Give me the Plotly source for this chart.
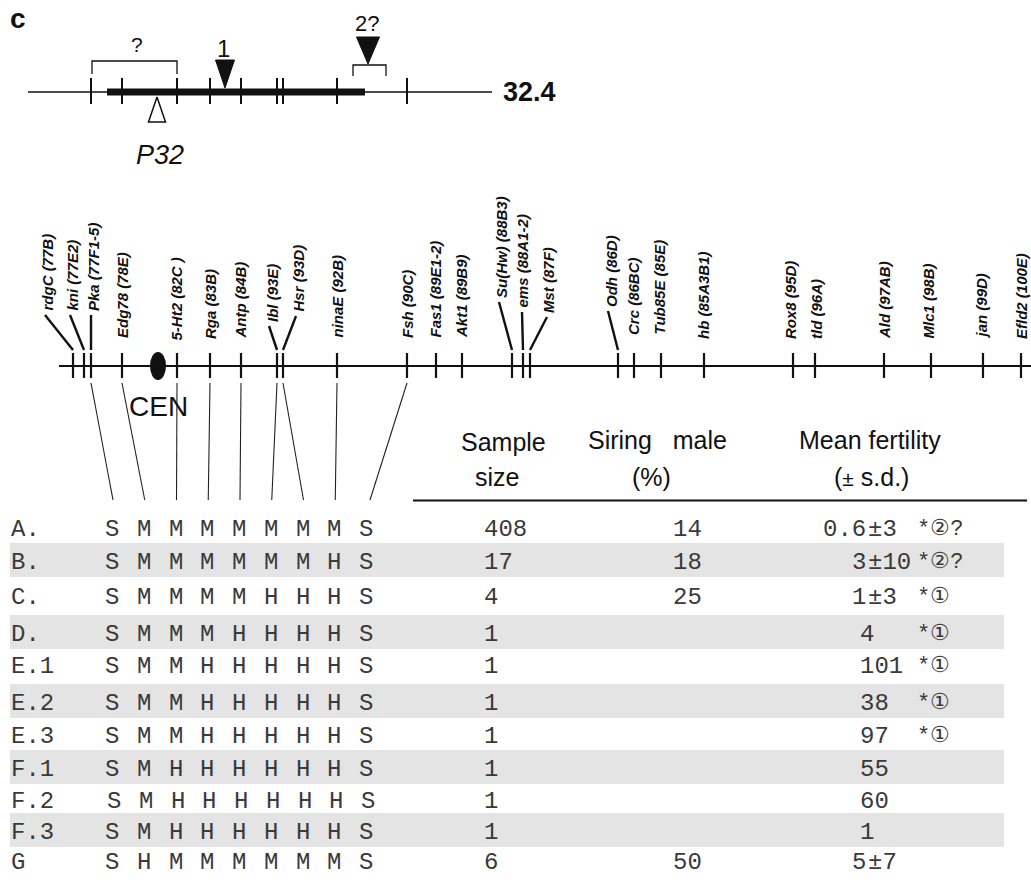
import plotly.graph_objects as go

# ---------------- data ----------------
# chromosome 3 markers (name, cytological band, map position along the drawn chromosome)
gene_names = ["rdgC", "kni", "Pka", "Edg78", "5-Ht2", "Rga", "Antp", "Ibl", "Hsr", "ninaE",
              "Fsh", "Fas1", "Akt1", "Su(Hw)", "ems", "Mst", "Odh", "Crc", "Tub85E", "hb",
              "Rox8", "tld", "Ald", "Mlc1", "jan", "Efld2"]
gene_bands = ["77B", "77E2", "77F1-5", "78E", "82C ", "83B", "84B", "93E", "93D", "92B",
              "90C", "89E1-2", "89B9", "88B3", "88A1-2", "87F", "86D", "86BC", "85E", "85A3B1",
              "95D", "96A", "97AB", "98B", "99D", "100E"]
gene_pos = [73, 84, 91, 122, 177, 210, 241, 277, 283, 337,
            407, 436, 462, 512, 523, 530, 618, 634, 661, 704,
            793, 815, 884, 931, 983, 1021]
centromere_pos = 158

# markers genotyped in the table (in column order)
typed_markers = ["Pka", "Edg78", "5-Ht2", "Rga", "Antp", "Ibl", "Hsr", "ninaE", "Fsh"]

# interval map (32.4)
interval_label = "32.4"
interval_span = [28, 492]
insert_span = [107, 365]
p32_pos = 157
site1_pos = 225
site2_pos = 368
q_bracket = [92, 177]
site2_bracket = [353, 386]

# table
row_labels = ["A.", "B.", "C.", "D.", "E.1", "E.2", "E.3", "F.1", "F.2", "F.3", "G"]
genotypes = ["SMMMMMMMS", "SMMMMMMHS", "SMMMMHHHS", "SMMMHHHHS", "SMMHHHHHS", "SMMHHHHHS",
             "SMMHHHHHS", "SMHHHHHHS", "SMHHHHHHS", "SMHHHHHHS", "SHMMMMMMS"]
sample_size = [408, 17, 4, 1, 1, 1, 1, 1, 1, 1, 6]
siring_pct = [14, 18, 25, None, None, None, None, None, None, None, 50]
fert_mean = ["0.6", "3", "1", "4", "101", "38", "97", "55", "60", "1", "5"]
fert_sd = ["3", "10", "3", None, None, None, None, None, None, None, "7"]
fert_note = ["*②?", "*②?", "*①", "*①", "*①", "*①", "*①", "", "", "", ""]
shaded_rows = ["B.", "D.", "E.2", "F.1", "F.3"]

# ---------------- layout constants ----------------
W, H = 1031, 889
INK = "#111111"
GREY_TXT = "#3a3a3a"
SANS = "Liberation Sans, Arial, sans-serif"
MONO = "Liberation Mono, Courier New, monospace"
TOP_Y = 92
MAP_Y = 366
# label layout: (label centre x, label bottom y, leader top x or None)
label_layout = {
    "rdgC": (47, 312, 45), "kni": (72, 312, 70), "Pka": (93, 312, 91),
    "Edg78": (122, 339, None), "5-Ht2": (176, 342, None), "Rga": (210, 340, None),
    "Antp": (240, 340, None), "Ibl": (272, 323, 269), "Hsr": (298, 313, 296),
    "ninaE": (337, 339, None), "Fsh": (407, 339, None), "Fas1": (435, 339, None),
    "Akt1": (461, 339, None), "Su(Hw)": (501, 299, 499), "ems": (522, 309, 522),
    "Mst": (548, 314, 547), "Odh": (611, 308, 608), "Crc": (633, 336, None),
    "Tub85E": (659, 336, None), "hb": (703, 340, None), "Rox8": (790, 340, None),
    "tld": (816, 340, None), "Ald": (884, 340, None), "Mlc1": (928, 340, None),
    "jan": (981, 340, None), "Efld2": (1021, 340, None),
}
row_y = [529, 562, 597, 634, 666, 703, 736, 769, 801, 832, 862]
col_x0, col_dx = 112, 31.75
pos_of = dict(zip(gene_names, gene_pos))

fig = go.Figure()


def add_lines(xs, ys, width, color=INK):
    fig.add_trace(go.Scatter(x=xs, y=ys, mode="lines", line=dict(color=color, width=width),
                             hoverinfo="skip", showlegend=False))


# ---------- top interval map ----------
add_lines(interval_span, [TOP_Y, TOP_Y], 1.4)
add_lines(insert_span, [TOP_Y, TOP_Y], 7)
tx, ty = [], []
for m in typed_markers:
    tx += [pos_of[m], pos_of[m], None]
    ty += [78, 104, None]
add_lines(tx, ty, 2)
add_lines([q_bracket[0], q_bracket[0], q_bracket[1], q_bracket[1]], [74, 61, 61, 74], 1.3)
add_lines([site2_bracket[0], site2_bracket[0], site2_bracket[1], site2_bracket[1]], [76, 65, 65, 76], 1.3)
fig.add_trace(go.Scatter(x=[site1_pos - 9.5, site1_pos + 9.5, site1_pos, site1_pos - 9.5],
                         y=[60, 60, 88, 60], mode="lines", fill="toself", fillcolor=INK,
                         line=dict(color=INK, width=1), hoverinfo="skip", showlegend=False))
fig.add_trace(go.Scatter(x=[site2_pos - 11.5, site2_pos + 11.5, site2_pos, site2_pos - 11.5],
                         y=[37, 37, 64, 37], mode="lines", fill="toself", fillcolor=INK,
                         line=dict(color=INK, width=1), hoverinfo="skip", showlegend=False))
fig.add_trace(go.Scatter(x=[p32_pos, p32_pos - 8.5, p32_pos + 8.5, p32_pos],
                         y=[97, 122, 122, 97], mode="lines", fill="toself", fillcolor="white",
                         line=dict(color=INK, width=1.5), hoverinfo="skip", showlegend=False))

# ---------- chromosome map ----------
add_lines([59, W], [MAP_Y, MAP_Y], 2.2)
tx, ty = [], []
for p in gene_pos:
    tx += [p, p, None]
    ty += [353, 378, None]
add_lines(tx, ty, 2.2)
lx, ly = [], []
for n, p in zip(gene_names, gene_pos):
    x_lab, y_lab, lead = label_layout[n]
    if lead is not None:
        lx += [p, lead, None]
        ly += [350, y_lab + 3, None]
add_lines(lx, ly, 2.4)

# connectors from typed markers to table columns
cx, cy = [], []
for i, m in enumerate(typed_markers):
    cx += [pos_of[m], col_x0 + i * col_dx + (4 if i == 8 else 1), None]
    cy += [383, 500, None]
add_lines(cx, cy, 1.1, "#222222")

# table rule
add_lines([413, 1027], [500.5, 500.5], 2)

shapes = [dict(type="circle", xref="x", yref="y", x0=centromere_pos - 8, x1=centromere_pos + 8,
               y0=MAP_Y - 14, y1=MAP_Y + 14, fillcolor=INK, line=dict(width=0))]
for lab, y in zip(row_labels, row_y):
    if lab in shaded_rows:
        shapes.append(dict(type="rect", xref="x", yref="y", x0=10, x1=1004, y0=y - 19, y1=y + 15,
                           fillcolor="#e4e4e4", line=dict(width=0), layer="below"))

ann = []


def txt(x, y, s, size, family=SANS, color=INK, xa="center", ya="middle", angle=0):
    ann.append(dict(x=x, y=y, xref="x", yref="y", text=s, showarrow=False, xanchor=xa,
                    yanchor=ya, textangle=angle, borderpad=0,
                    font=dict(size=size, family=family, color=color)))


txt(9, 18, "<b>c</b>", 28, xa="left")
txt(137, 44, "?", 21)
txt(223, 48, "1", 24)
txt(367, 23, "2?", 22)
txt(160, 155, "<i>P32</i>", 27)
txt(502, 92, "<b>" + interval_label + "</b>", 27, xa="left")

for n, b in zip(gene_names, gene_bands):
    x_lab, y_lab, lead = label_layout[n]
    txt(x_lab, y_lab, f"<b><i>{n} ({b})</i></b>", 15, ya="bottom", angle=-90)

txt(centromere_pos, 406, "CEN", 28)

# header
txt(503, 442, "Sample", 25)
txt(497, 477, "size", 25)
txt(657, 440, "Siring\u00a0\u00a0\u00a0male", 25)
txt(651, 477, "(%)", 25)
txt(870, 440, "Mean fertility", 25)
txt(871, 477, "(<span style='font-size:21px'>±</span> s.d.)", 25)

# rows
for i, y in enumerate(row_y):
    txt(10, y, row_labels[i], 24, MONO, GREY_TXT, xa="left")
    for j, g in enumerate(genotypes[i]):
        txt(col_x0 + j * col_dx + (2 if row_labels[i] == "F.2" else 0), y, g, 24, MONO, GREY_TXT)
    txt(483, y, str(sample_size[i]), 24, MONO, GREY_TXT, xa="left")
    if siring_pct[i] is not None:
        txt(672, y, str(siring_pct[i]), 24, MONO, GREY_TXT, xa="left")
    if fert_sd[i] is not None:
        txt(867, y, fert_mean[i], 24, MONO, GREY_TXT, xa="right")
        txt(867, y, "±" + fert_sd[i], 24, MONO, GREY_TXT, xa="left")
    else:
        txt(859, y, fert_mean[i], 24, MONO, GREY_TXT, xa="left")
    if fert_note[i]:
        txt(916, y, fert_note[i], 22, MONO, GREY_TXT, xa="left")

fig.update_layout(
    width=W, height=H, margin=dict(l=0, r=0, t=0, b=0),
    paper_bgcolor="white", plot_bgcolor="white", showlegend=False,
    xaxis=dict(range=[0, W], visible=False, fixedrange=True),
    yaxis=dict(range=[H, 0], visible=False, fixedrange=True),
    shapes=shapes, annotations=ann,
)
fig.write_html("out.html", config={"displayModeBar": False},
               post_script="document.body.style.margin='0';document.body.style.overflow='hidden';")
